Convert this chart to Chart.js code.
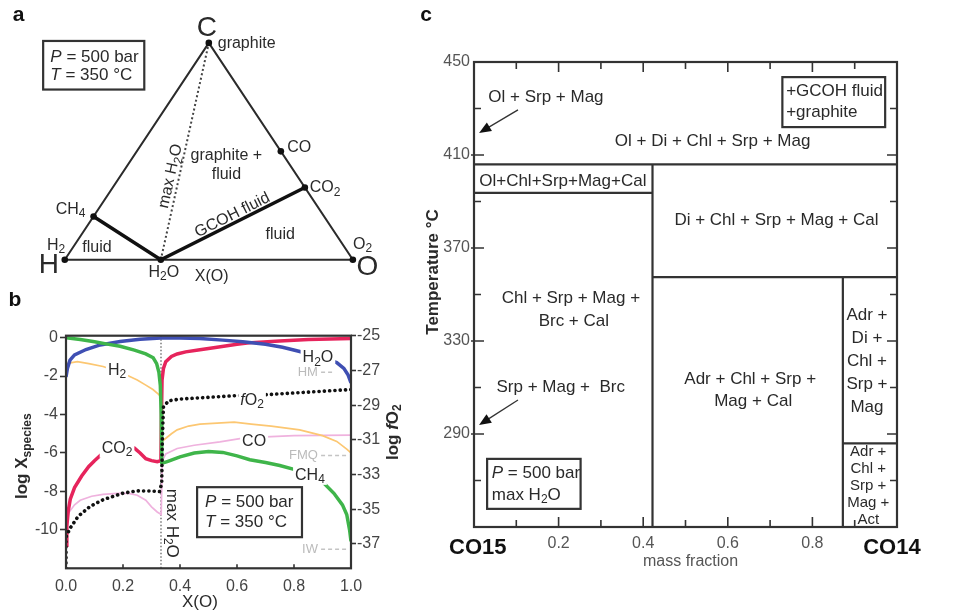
<!DOCTYPE html>
<html>
<head>
<meta charset="utf-8">
<script src="https://cdn.jsdelivr.net/npm/chart.js@4.4.1/dist/chart.umd.min.js"></script>
<style>
  body { margin: 0; background: #fff; }
  #wrap { position: relative; width: 975px; height: 613px; overflow: hidden; background: #fff; }
  canvas { position: absolute; }
</style>
</head>
<body>
<div id="wrap">
  <canvas id="chart-c" width="575" height="613" style="left:400px;top:0"></canvas>
  <canvas id="chart-a" width="400" height="292" style="left:0;top:0"></canvas>
  <canvas id="chart-b" width="412" height="321" style="left:0;top:292px"></canvas>
</div>
<script>
/* a — C-H-O ternary, species as atomic fractions */
const species   = ['H', 'O', 'C', 'CH4', 'H2O', 'CO', 'CO2'];
const speciesXC = [0, 0, 1, 0.2, 0, 0.5, 1 / 3];
const speciesXO = [0, 1, 0, 0, 1 / 3, 0.5, 2 / 3];

/* b — log X(species) vs X(O), left axis; log fO2, right axis */
const xTicksB     = [0, 0.2, 0.4, 0.6, 0.8, 1.0];
const logXTicks   = [0, -2, -4, -6, -8, -10];
const logfO2Ticks = [-25, -27, -29, -31, -33, -35, -37];
const maxH2O      = 1 / 3;

const h2oCurve = [[0,-2.05],[0.005,-1.6],[0.014,-1.17],[0.03,-0.9],[0.07,-0.62],[0.12,-0.38],[0.19,-0.2],
  [0.26,-0.08],[0.333,-0.02],[0.4,-0.02],[0.47,-0.05],[0.55,-0.13],[0.62,-0.22],[0.7,-0.35],[0.76,-0.5],
  [0.82,-0.72],[0.88,-0.98],[0.92,-1.15],[0.95,-1.3],[0.975,-1.6],[0.99,-1.95],[1.0,-2.35]];
const ch4Curve = [[0,0],[0.05,-0.1],[0.1,-0.22],[0.15,-0.35],[0.19,-0.45],[0.24,-0.65],[0.28,-0.85],
  [0.306,-1.05],[0.318,-1.35],[0.326,-1.8],[0.331,-2.5],[0.334,-4],[0.336,-6.5],[0.345,-6.5],[0.36,-6.42],
  [0.4,-6.2],[0.45,-6.0],[0.5,-5.92],[0.55,-5.97],[0.6,-6.15],[0.645,-6.35],[0.7,-6.5],[0.75,-6.65],
  [0.8,-6.85],[0.85,-7.1],[0.9,-7.5],[0.94,-8.1],[0.97,-8.7],[0.985,-9.2],[0.995,-10],[1.0,-10.6]];
const co2Curve = [[0,-10.8],[0.003,-9.8],[0.008,-9.0],[0.015,-8.4],[0.03,-7.8],[0.055,-7.2],[0.08,-6.7],
  [0.1,-6.4],[0.13,-6.0],[0.16,-5.75],[0.19,-5.62],[0.22,-5.65],[0.24,-5.75],[0.26,-6.0],[0.28,-6.3],
  [0.3,-6.4],[0.32,-6.45],[0.333,-6.4],[0.335,-4],[0.337,-2.2],[0.342,-1.6],[0.35,-1.25],[0.37,-0.98],
  [0.39,-0.85],[0.42,-0.74],[0.47,-0.63],[0.53,-0.5],[0.6,-0.35],[0.65,-0.26],[0.75,-0.17],[0.85,-0.1],[1.0,-0.04]];
const h2Curve = [[0,-1.35],[0.04,-1.25],[0.08,-1.35],[0.13,-1.5],[0.18,-1.75],[0.22,-2.0],[0.25,-2.2],
  [0.28,-2.47],[0.305,-2.7],[0.325,-2.95],[0.334,-3.1],[0.338,-5.4],[0.345,-5.3],[0.37,-5.0],[0.39,-4.8],
  [0.43,-4.6],[0.47,-4.5],[0.53,-4.45],[0.59,-4.4],[0.65,-4.5],[0.72,-4.6],[0.82,-4.8],[0.9,-5.1],
  [0.95,-5.4],[0.985,-5.8],[1.0,-6.0]];
const coCurve = [[0,-9.8],[0.01,-9.1],[0.03,-8.7],[0.05,-8.46],[0.09,-8.25],[0.13,-8.15],[0.18,-8.1],
  [0.22,-8.1],[0.25,-8.2],[0.28,-8.46],[0.3,-8.8],[0.32,-9.07],[0.334,-9.2],[0.338,-6.4],[0.35,-6.05],
  [0.39,-5.77],[0.45,-5.6],[0.54,-5.42],[0.61,-5.25],[0.7,-5.16],[0.8,-5.1],[0.9,-5.08],[1.0,-5.07]];
const fo2Curve = [[0,-38.4],[0,-36.6],[0.014,-36.1],[0.043,-35.4],[0.084,-34.84],[0.13,-34.45],[0.2,-34.07],
  [0.25,-33.94],[0.3,-33.95],[0.328,-33.98],[0.336,-33.5],[0.338,-31],[0.342,-29.1],[0.36,-28.75],
  [0.4,-28.65],[0.5,-28.55],[0.6,-28.45],[0.7,-28.4],[0.8,-28.3],[0.9,-28.2],[1.0,-28.1]];

const bufferNames = ['HM', 'FMQ', 'IW'];
const bufferFO2   = [-27.1, -31.9, -37.3];
const bufferX     = [[0.895, 0.94], [0.895, 0.985], [0.895, 0.985]];

/* c — phase fields, mass fraction CO15 -> CO14 vs T */
const massMajor = [0.2, 0.4, 0.6, 0.8];
const massMinor = [0.1, 0.3, 0.5, 0.7, 0.9];
const tempMajor = [290, 330, 370, 410, 450];
const tempMinor = [270, 310, 350, 390, 430];
const boundaries = [
  [[0, 406], [1, 406]],
  [[0, 393.7], [0.422, 393.7]],
  [[0.422, 406], [0.422, 250]],
  [[0.422, 357.5], [1, 357.5]],
  [[0.872, 357.5], [0.872, 250]],
  [[0.872, 286], [1, 286]]
];

const FONT = '"Liberation Sans", Arial, Helvetica, sans-serif';
const INK = '#2a2a2a';
Chart.defaults.font.family = FONT;

const pts = arr => arr.map(p => ({ x: p[0], y: p[1] }));

// text with _{sub} and *italic* markup
function richText(ctx, str, x, y, o) {
  const size = o.size || 16;
  const weight = o.bold ? 'bold ' : '';
  const parts = [];
  str.replace(/_\{([^}]*)\}|\*([^*]*)\*|([^_*]+)/g, (m, sub, it, plain) => {
    if (sub !== undefined) parts.push({ t: sub, sub: true });
    else if (it !== undefined) parts.push({ t: it, it: true });
    else parts.push({ t: plain });
  });
  const fontOf = p => (p.it ? 'italic ' : '') + weight + Math.round(p.sub ? size * 0.72 : size) + 'px ' + FONT;
  ctx.save();
  let w = 0;
  parts.forEach(p => { ctx.font = fontOf(p); p.w = ctx.measureText(p.t).width; w += p.w; });
  ctx.translate(x, y);
  if (o.rot) ctx.rotate(o.rot * Math.PI / 180);
  if (o.maxW && w > o.maxW) ctx.scale(o.maxW / w, 1);
  let x0 = o.align === 'left' ? 0 : o.align === 'right' ? -w : -w / 2;
  if (o.bg) { ctx.fillStyle = '#fff'; ctx.fillRect(x0 - 2, -size * 0.55, w + 4, size * 1.15); }
  ctx.fillStyle = o.color || INK;
  ctx.textBaseline = 'middle';
  parts.forEach(p => { ctx.font = fontOf(p); ctx.fillText(p.t, x0, p.sub ? size * 0.3 : 0); x0 += p.w; });
  ctx.restore();
}

function notes(list) {
  return {
    id: 'notes',
    afterDraw(chart) {
      const ctx = chart.ctx, sx = chart.scales.x;
      list.forEach(n => {
        const sy = chart.scales[n.axis || 'y'];
        const X = v => sx.getPixelForValue(v), Y = v => sy.getPixelForValue(v);
        ctx.save();
        ctx.strokeStyle = '#333'; ctx.fillStyle = '#333';
        if (n.box) {
          ctx.lineWidth = 2.2;
          ctx.strokeRect(X(n.box[0]), Y(n.box[1]), X(n.box[2]) - X(n.box[0]), Y(n.box[3]) - Y(n.box[1]));
        } else if (n.arrow) {
          const x1 = X(n.arrow[0]), y1 = Y(n.arrow[1]), x2 = X(n.arrow[2]), y2 = Y(n.arrow[3]);
          const ang = Math.atan2(y2 - y1, x2 - x1);
          ctx.lineWidth = 1.3;
          ctx.beginPath(); ctx.moveTo(x1, y1); ctx.lineTo(x2 - 8 * Math.cos(ang), y2 - 8 * Math.sin(ang)); ctx.stroke();
          ctx.fillStyle = '#111';
          ctx.beginPath();
          ctx.moveTo(x2, y2);
          ctx.lineTo(x2 - 12 * Math.cos(ang) + 5 * Math.sin(ang), y2 - 12 * Math.sin(ang) - 5 * Math.cos(ang));
          ctx.lineTo(x2 - 12 * Math.cos(ang) - 5 * Math.sin(ang), y2 - 12 * Math.sin(ang) + 5 * Math.cos(ang));
          ctx.closePath(); ctx.fill();
        } else {
          richText(ctx, n.text, X(n.x), Y(n.y), n);
        }
        ctx.restore();
      });
    }
  };
}

// plot frame plus inward tick marks
function frame(spec) {
  return {
    id: 'frame',
    afterDatasetsDraw(chart) {
      const { ctx, chartArea: a } = chart;
      ctx.save();
      ctx.strokeStyle = spec.color; ctx.lineWidth = spec.width;
      ctx.strokeRect(a.left, a.top, a.right - a.left, a.bottom - a.top);
      ctx.lineWidth = 1.6;
      spec.ticks.forEach(t => {
        const s = chart.scales[t.scale];
        t.values.forEach(v => {
          const p = s.getPixelForValue(v);
          ctx.beginPath();
          t.sides.forEach(side => {
            if (side === 'bottom') { ctx.moveTo(p, a.bottom + (t.out || 0)); ctx.lineTo(p, a.bottom - t.len); }
            if (side === 'top')    { ctx.moveTo(p, a.top); ctx.lineTo(p, a.top + t.len); }
            if (side === 'left')   { ctx.moveTo(a.left - (t.out || 0), p); ctx.lineTo(a.left + t.len, p); }
            if (side === 'right')  { ctx.moveTo(a.right, p); ctx.lineTo(a.right - t.len, p); }
          });
          ctx.stroke();
        });
      });
      ctx.restore();
    }
  };
}

const baseOpts = {
  responsive: false, animation: false, devicePixelRatio: 1,
  plugins: { legend: { display: false }, tooltip: { enabled: false } }
};

/* ---------- a ---------- */
const terPt = name => {
  const i = species.indexOf(name);
  return { x: speciesXO[i] + speciesXC[i] / 2, y: speciesXC[i] };
};
const notesA = [
  { text: 'a', x: -0.16, y: 1.126, size: 21, bold: true, color: '#111' },
  { box: [-0.075, 1.009, 0.276, 0.785] },
  { text: '*P* = 500 bar', x: -0.05, y: 0.933, align: 'left', size: 17 },
  { text: '*T* = 350 °C', x: -0.05, y: 0.852, align: 'left', size: 17 },
  { text: 'C', x: 0.493, y: 1.067, size: 28 },
  { text: 'graphite', x: 0.531, y: 0.996, align: 'left' },
  { text: 'CO', x: 0.772, y: 0.516, align: 'left' },
  { text: 'CO_{2}', x: 0.85, y: 0.332, align: 'left' },
  { text: 'graphite +', x: 0.561, y: 0.48 },
  { text: 'fluid', x: 0.561, y: 0.395 },
  { text: 'max H_{2}O', x: 0.367, y: 0.386, rot: -77.6 },
  { text: 'GCOH fluid', x: 0.582, y: 0.206, rot: -26.6 },
  { text: 'fluid', x: 0.748, y: 0.117 },
  { text: 'CH_{4}', x: 0.02, y: 0.233 },
  { text: 'H_{2}', x: -0.03, y: 0.067 },
  { text: 'fluid', x: 0.112, y: 0.058 },
  { text: 'O_{2}', x: 1.034, y: 0.072 },
  { text: 'H', x: -0.055, y: -0.027, size: 28 },
  { text: 'O', x: 1.05, y: -0.036, size: 28 },
  { text: 'H_{2}O', x: 0.344, y: -0.058 },
  { text: 'X(O)', x: 0.51, y: -0.076 }
];
new Chart(document.getElementById('chart-a'), {
  type: 'scatter',
  data: { datasets: [
    { data: species.map(terPt), pointRadius: 3.3, backgroundColor: '#111', borderWidth: 0 },
    { data: ['CH4', 'H2O', 'CO2'].map(terPt), showLine: true, borderColor: '#111', borderWidth: 3.5, pointRadius: 0 },
    { data: ['H', 'O', 'C', 'H'].map(terPt), showLine: true, borderColor: '#2b2b2b', borderWidth: 2, pointRadius: 0 },
    { data: ['H2O', 'C'].map(terPt), showLine: true, borderColor: '#444', borderWidth: 2, borderDash: [2, 2.5], pointRadius: 0 }
  ]},
  options: Object.assign({}, baseOpts, {
    layout: { padding: 0 },
    scales: {
      x: { type: 'linear', display: false, min: -0.2109, max: 1.1497 },
      y: { type: 'linear', display: false, min: -0.130, max: 1.1794 }
    }
  }),
  plugins: [notes(notesA)]
});

/* ---------- b ---------- */
const curve = (arr, color, width, extra) => Object.assign({
  data: pts(arr), showLine: true, borderColor: color, borderWidth: width, pointRadius: 0, yAxisID: 'y'
}, extra || {});
const tickFont = { size: 16, family: FONT };
const notesB = [
  { text: 'b', x: -0.179, y: 1.96, size: 21, bold: true, color: '#111' },
  { text: 'H_{2}', x: 0.179, y: -1.69, bg: true },
  { text: 'H_{2}O', x: 0.884, y: -1.06, bg: true },
  { text: '*f*O_{2}', x: 0.653, y: -3.25, bg: true },
  { text: 'CO', x: 0.66, y: -5.39, bg: true },
  { text: 'CO_{2}', x: 0.179, y: -5.75, bg: true },
  { text: 'CH_{4}', x: 0.856, y: -7.16, bg: true },
  ...bufferNames.map((b, i) => ({ text: b, x: 0.884, y: bufferFO2[i], axis: 'y2', align: 'right', size: 13, color: '#bbb' })),
  { text: 'max H_{2}O', x: 0.372, y: -9.66, rot: 90, size: 17 },
  { box: [0.46, -7.78, 0.828, -10.38] },
  { text: '*P* = 500 bar', x: 0.488, y: -8.56, align: 'left', size: 17 },
  { text: '*T* = 350 °C', x: 0.488, y: -9.6, align: 'left', size: 17 },
  { text: 'X(O)', x: 0.47, y: -13.75, size: 17 },
  { text: 'log X_{species}', x: -0.154, y: -6.17, rot: -90, bold: true, size: 17 },
  { text: 'log *f*O_{2}', x: 1.147, y: -4.92, rot: -90, bold: true, size: 17 }
];
new Chart(document.getElementById('chart-b'), {
  type: 'scatter',
  data: { datasets: [
    curve(fo2Curve, '#111', 3.6, { yAxisID: 'y2', borderDash: [0.1, 5.2], borderCapStyle: 'round' }),
    curve(ch4Curve, '#3fb54a', 3.5),
    curve(h2oCurve, '#3f4fb3', 3.5),
    curve(co2Curve, '#e6245c', 3.5),
    curve(h2Curve, '#fcc772', 1.7),
    curve(coCurve, '#efb2de', 1.7),
    ...bufferNames.map((b, i) => curve(bufferX[i].map(x => [x, bufferFO2[i]]), '#c4c4c4', 1.5, { yAxisID: 'y2', borderDash: [4, 3] })),
    curve([[maxH2O, -12], [maxH2O, 0.1]], '#555', 1.2, { borderDash: [1.5, 2] })
  ]},
  options: Object.assign({}, baseOpts, {
    layout: { padding: { top: 43.7, left: 0, right: 0, bottom: 0 } },
    scales: {
      x: {
        type: 'linear', min: 0, max: 1,
        afterFit: s => { s.height = 44.7; },
        afterBuildTicks: s => { s.ticks = xTicksB.map(v => ({ value: v })); },
        grid: { display: false, drawTicks: false }, border: { display: false },
        ticks: { padding: 9, color: '#444', font: tickFont, maxRotation: 0, autoSkip: false, callback: v => v.toFixed(1) }
      },
      y: {
        type: 'linear', position: 'left', min: -12, max: 0.1,
        afterFit: s => { s.width = 66; },
        afterBuildTicks: s => { s.ticks = logXTicks.map(v => ({ value: v })); },
        grid: { drawOnChartArea: false, drawTicks: true, tickLength: 6, tickColor: '#333', tickWidth: 1.6 },
        border: { display: false },
        ticks: { padding: 2, color: '#444', font: tickFont, autoSkip: false, callback: v => String(v) }
      },
      y2: {
        type: 'linear', position: 'right', min: -38.4, max: -25,
        afterFit: s => { s.width = 61; },
        afterBuildTicks: s => { s.ticks = logfO2Ticks.map(v => ({ value: v })); },
        grid: { drawOnChartArea: false, drawTicks: true, tickLength: 5, tickColor: '#333', tickWidth: 1.6 },
        border: { display: false },
        ticks: { padding: 1, color: '#444', font: tickFont, autoSkip: false, callback: v => String(v) }
      }
    }
  }),
  plugins: [frame({ color: '#333', width: 2.2, ticks: [{ scale: 'x', values: xTicksB, len: 4, sides: ['bottom'] }] }), notes(notesB)]
});

/* ---------- c ---------- */
const rightCol = ['Adr +', 'Di +', 'Chl +', 'Srp +', 'Mag'];
const rightColT = [341.2, 331.3, 321.4, 311.5, 301.6];
const lowCol = ['Adr +', 'Chl +', 'Srp +', 'Mag +', 'Act'];
const lowColT = [282.3, 275, 267.6, 260.3, 253];
const notesC = [
  { text: 'c', x: -0.113, y: 470.2, size: 21, bold: true, color: '#111' },
  { text: 'Ol + Srp + Mag', x: 0.17, y: 435, size: 17 },
  { arrow: [0.104, 429.4, 0.012, 419.5] },
  { box: [0.729, 443.5, 0.972, 422] },
  { text: '+GCOH fluid', x: 0.738, y: 437.6, align: 'left', size: 17 },
  { text: '+graphite', x: 0.738, y: 428.2, align: 'left', size: 17 },
  { text: 'Ol + Di + Chl + Srp + Mag', x: 0.564, y: 416, size: 17 },
  { text: 'Ol+Chl+Srp+Mag+Cal', x: 0.21, y: 398.8, size: 17, maxW: 172 },
  { text: 'Di + Chl + Srp + Mag + Cal', x: 0.715, y: 382, size: 17 },
  { text: 'Chl + Srp + Mag +', x: 0.229, y: 348.5, size: 17 },
  { text: 'Brc + Cal', x: 0.236, y: 338.6, size: 17 },
  { text: 'Srp + Mag +  Brc', x: 0.205, y: 310, size: 17 },
  { arrow: [0.104, 304.6, 0.012, 293.9] },
  { text: 'Adr + Chl + Srp +', x: 0.653, y: 313.7, size: 17 },
  { text: 'Mag + Cal', x: 0.66, y: 304.2, size: 17 },
  ...rightCol.map((s, i) => ({ text: s, x: 0.929, y: rightColT[i], size: 17 })),
  ...lowCol.map((s, i) => ({ text: s, x: 0.932, y: lowColT[i], size: 15, maxW: 48 })),
  { box: [0.031, 279.3, 0.252, 257.8] },
  { text: '*P* = 500 bar', x: 0.042, y: 273.2, align: 'left', size: 17 },
  { text: 'max H_{2}O', x: 0.042, y: 263.8, align: 'left', size: 17 },
  { text: 'CO15', x: 0.009, y: 240.9, bold: true, size: 22, color: '#111' },
  { text: 'CO14', x: 0.988, y: 240.9, bold: true, size: 22, color: '#111' },
  { text: 'mass fraction', x: 0.512, y: 235, size: 16, color: '#555' },
  { text: 'Temperature °C', x: -0.097, y: 359.7, rot: -90, bold: true, size: 17 }
];
new Chart(document.getElementById('chart-c'), {
  type: 'scatter',
  data: { datasets: boundaries.map(seg => ({
    data: pts(seg), showLine: true, borderColor: '#333', borderWidth: 2.2, pointRadius: 0
  })) },
  options: Object.assign({}, baseOpts, {
    layout: { padding: { top: 62, right: 78, left: 0, bottom: 0 } },
    scales: {
      x: {
        type: 'linear', min: 0, max: 1,
        afterFit: s => { s.height = 86; },
        afterBuildTicks: s => { s.ticks = massMajor.map(v => ({ value: v })); },
        grid: { display: false, drawTicks: false }, border: { display: false },
        ticks: { padding: 7, color: '#555', font: tickFont, maxRotation: 0, autoSkip: false, callback: v => v.toFixed(1) }
      },
      y: {
        type: 'linear', min: 250, max: 450,
        afterFit: s => { s.width = 74; },
        afterBuildTicks: s => { s.ticks = tempMajor.map(v => ({ value: v })); },
        grid: { display: false, drawTicks: false }, border: { display: false },
        ticks: { padding: 4, color: '#555', font: tickFont, autoSkip: false, callback: v => String(v) }
      }
    }
  }),
  plugins: [frame({ color: '#333', width: 2.2, ticks: [
    { scale: 'x', values: massMajor, len: 10, sides: ['bottom', 'top'] },
    { scale: 'x', values: massMinor, len: 7, sides: ['bottom', 'top'] },
    { scale: 'y', values: tempMajor.slice(0, 4), len: 10, out: 3, sides: ['left', 'right'] },
    { scale: 'y', values: tempMinor, len: 7, sides: ['left', 'right'] }
  ] }), notes(notesC)]
});
</script>
</body>
</html>
